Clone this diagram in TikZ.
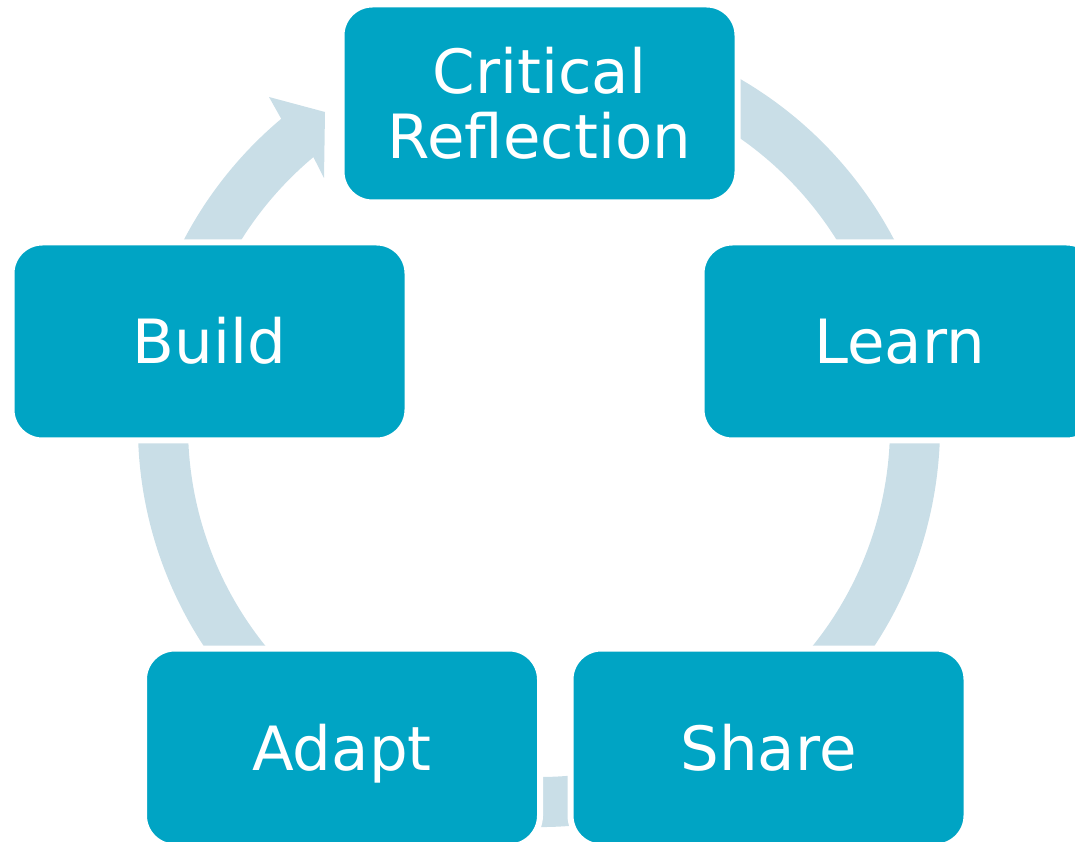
\documentclass[tikz,border=0pt]{standalone}
\usepackage{fontspec}
\setmainfont{DejaVu Sans}
\definecolor{stageteal}{RGB}{0,164,196}
\definecolor{ringblue}{RGB}{201,222,231}
\begin{document}
\begin{tikzpicture}[x=1pt,y=1pt,
  stagebox/.style={rectangle, rounded corners=31pt, fill=stageteal, draw=white,
    line width=6pt, minimum width=396pt, minimum height=198pt, inner sep=0pt,
    text=white, align=center, font=\fontsize{61}{65}\selectfont},
  oneline/.style={text height=45pt, text depth=0pt},
  ring/.style={fill=ringblue, draw=none}]
\useasboundingbox (0,0) rectangle (1075,841);
\clip (0,0) rectangle (1075,841);

% circular arrow running clockwise behind the stages
\coordinate (hub) at (539,415);
\begin{scope}[shift={(hub)}]
  \fill[ring] (80:401pt) arc[start angle=80, end angle=-230, radius=401pt]
    -- (-270,329) -- (-214,314) -- (-215,248)
    -- (-230:351pt) arc[start angle=-230, end angle=80, radius=351pt] -- cycle;
\end{scope}

% stages of the cycle
\node[stagebox] (reflect) at (539.5,737.5) {Critical\\Reflection};
\node[stagebox, oneline] (learn) at (899.5,499.5) {Learn};
\node[stagebox, oneline] (share) at (768.5,93.5) {Share};
\node[stagebox, oneline] (adapt) at (342,93.5) {Adapt};
\node[stagebox, oneline] (build) at (209.5,499.5) {Build};
\end{tikzpicture}
\end{document}
